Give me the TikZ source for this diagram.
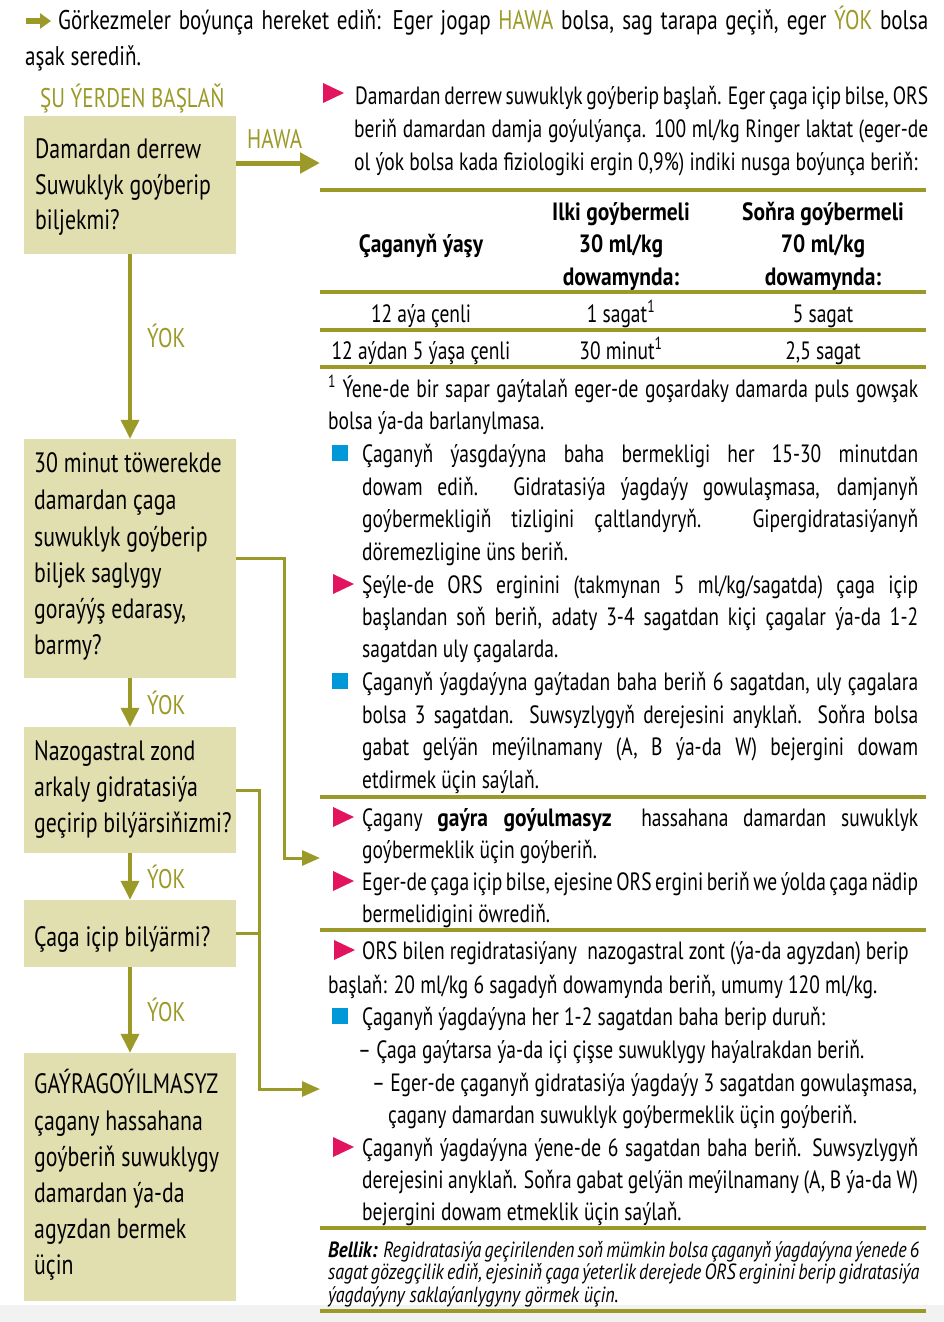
\documentclass[tikz,border=0pt]{standalone}
\usepackage{fontspec}
\setmainfont{PT Sans}[FakeStretch=0.78,BoldFeatures={FakeStretch=0.86},ItalicFeatures={FakeStretch=0.82},BoldItalicFeatures={FakeStretch=0.86}]
\usepackage{graphicx}
\usetikzlibrary{arrows.meta}
\definecolor{olive}{HTML}{9B9A28}
\definecolor{boxfill}{HTML}{E1DEB0}
\definecolor{pinkm}{HTML}{E2145F}
\definecolor{bluem}{HTML}{0099D8}
\newcommand\TL[4]{\node[txt] (#1) at (#2,#3) {#4};}
\newcommand\JL[5]{\node[txt] (#1) at (#2,#3) {\makebox[#4pt][s]{#5}};}
\newcommand\BT[4]{\node[btxt] (#1) at (#2,#3) {#4};}
\newcommand\PTri[3]{\fill[pinkm] (#2,#3-10) -- (#2+21,#3) -- (#2,#3+10) -- cycle; \coordinate (#1) at (#2,#3);}
\newcommand\BSq[3]{\fill[bluem] (#2,#3-8) rectangle (#2+16,#3+8); \coordinate (#1) at (#2,#3);}
\begin{document}
\begin{tikzpicture}[x=1pt,y=-1pt,
  txt/.style={inner sep=0pt,anchor=mid west,yshift=-6.5pt,font=\fontsize{25}{28}\selectfont},
  btxt/.style={inner sep=0pt,anchor=mid west,yshift=-6.5pt,font=\fontsize{28}{32}\selectfont},
  ttl/.style={inner sep=0pt,anchor=mid west,yshift=-6.5pt,font=\fontsize{27}{30}\selectfont},
  lbl/.style={inner sep=0pt,anchor=mid west,yshift=-6.5pt,text=olive,font=\fontsize{27}{32}\selectfont},
  hdr/.style={inner sep=0pt,anchor=mid,yshift=-6.5pt,font=\bfseries\fontsize{25}{28}\selectfont},
  cell/.style={inner sep=0pt,anchor=mid,yshift=-6.5pt,font=\fontsize{25}{28}\selectfont},
  bel/.style={inner sep=0pt,anchor=mid west,yshift=-5.5pt,font=\itshape\fontsize{22}{24}\selectfont},
  qbox/.style={fill=boxfill,inner sep=0pt,minimum width=212pt},
  rule/.style={olive,line width=3.5pt},
  vline/.style={olive,line width=3.5pt,-{Triangle[length=19pt,width=18pt]}},
  hawa/.style={olive,line width=5pt,-{Triangle[length=20pt,width=20pt]}},
  rline/.style={olive,line width=3pt,-{Triangle[length=18pt,width=15pt]}},
  rjoin/.style={olive,line width=3pt}]
\useasboundingbox (0,0) rectangle (944,1322);
\fill[white] (0,0) rectangle (944,1322);
\fill[black!5] (0,1305) rectangle (944,1322);

% title
\draw[olive,line width=5.5pt,-{Triangle[length=11pt,width=15pt]}] (26,21) -- (51,21);
\node[ttl] (t1) at (58,21) {\makebox[870pt][s]{Görkezmeler boýunça hereket ediň: Eger jogap \textcolor{olive}{HAWA} bolsa, sag tarapa geçiň, eger \textcolor{olive}{ÝOK} bolsa}};
\node[ttl] (t2) at (25,57) {aşak serediň.};
\node[lbl] (start) at (40,98) {ŞU ÝERDEN BAŞLAŇ};

% boxes
\node[qbox,minimum height=138pt] (b1) at (130,185) {};
\node[qbox,minimum height=239pt] (b2) at (130,558.5) {};
\node[qbox,minimum height=126pt] (b3) at (130,790) {};
\node[qbox,minimum height=67pt] (b4) at (130,933.5) {};
\node[qbox,minimum height=248pt] (b5) at (130,1177) {};

\BT{b1a}{35}{149}{Damardan derrew}
\BT{b1b}{35}{185}{Suwuklyk goýberip}
\BT{b1c}{35}{220}{biljekmi?}
\BT{b2a}{34}{463}{30 minut töwerekde}
\BT{b2b}{34}{500}{damardan çaga}
\BT{b2c}{34}{537}{suwuklyk goýberip}
\BT{b2d}{34}{573}{biljek saglygy}
\BT{b2e}{34}{609}{goraýýş edarasy,}
\BT{b2f}{34}{645}{barmy?}
\BT{b3a}{34}{751}{Nazogastral zond}
\BT{b3b}{34}{787}{arkaly gidratasiýa}
\BT{b3c}{34}{823}{geçirip bilýärsiňizmi?}
\BT{b4a}{34}{937}{Çaga içip bilýärmi?}
\BT{b5a}{34}{1084}{GAÝRAGOÝILMASYZ}
\BT{b5b}{34}{1121}{çagany hassahana}
\BT{b5c}{34}{1157}{goýberiň suwuklygy}
\BT{b5d}{34}{1193}{damardan ýa-da}
\BT{b5e}{34}{1229}{agyzdan bermek}
\BT{b5f}{34}{1265}{üçin}

% connectors
\draw[vline] (b1.south) -- (b2.north);
\draw[vline] (b2.south) -- (b3.north);
\draw[vline] (b3.south) -- (b4.north);
\draw[vline] (b4.south) -- (b5.north);
\node[lbl] (y1) at (147,338) {ÝOK};
\node[lbl] (y2) at (147,705) {ÝOK};
\node[lbl] (y3) at (147,879) {ÝOK};
\node[lbl] (y4) at (147,1012) {ÝOK};
\coordinate (hend) at (320,163);
\draw[hawa] ([yshift=22pt]b1.east) -- (hend);
\node[lbl] (hw) at (247,139) {HAWA};
\coordinate (e2) at (320,858);
\draw[rline] (b2.east) -- ++(48,0) |- (e2);
\coordinate (e3) at (320,1089);
\draw[rline] (b3.east) -- ++(23,0) |- (e3);
\draw[rjoin] (b4.east) -- ++(24.5,0);

% right column block 1
\PTri{m1}{323}{93}
\JL{r1}{355}{95}{573}{Damardan derrew suwuklyk goýberip başlaň. Eger çaga içip bilse, ORS}
\JL{r2}{354}{128}{574}{beriň damardan damja goýulýança. 100 ml/kg Ringer laktat (eger-de}
\TL{r3}{354}{161}{ol ýok bolsa kada fiziologiki ergin 0,9\%) indiki nusga boýunça beriň:}
\draw[rule] (320,190) -- (926,190);

% table
\node[hdr] (h1) at (421,243) {Çaganyň ýaşy};
\node[hdr] (h2a) at (621,211) {Ilki goýbermeli};
\node[hdr] (h2b) at (621,243) {30 ml/kg};
\node[hdr] (h2c) at (621,276) {dowamynda:};
\node[hdr] (h3a) at (823,211) {Soňra goýbermeli};
\node[hdr] (h3b) at (823,243) {70 ml/kg};
\node[hdr] (h3c) at (823,276) {dowamynda:};
\draw[rule] (320,292) -- (926,292);
\node[cell] (c11) at (421,313) {12 aýa çenli};
\node[cell] (c12) at (621,313) {1 sagat\textsuperscript{1}};
\node[cell] (c13) at (823,313) {5 sagat};
\draw[rule] (320,330) -- (926,330);
\node[cell] (c21) at (421,350) {12 aýdan 5 ýaşa çenli};
\node[cell] (c22) at (621,350) {30 minut\textsuperscript{1}};
\node[cell] (c23) at (823,350) {2,5 sagat};
\draw[rule] (320,367) -- (926,367);

% footnote
\JL{f1}{328}{388}{590}{\textsuperscript{1} Ýene-de bir sapar gaýtalaň eger-de goşardaky damarda puls gowşak}
\TL{f2}{328}{420}{bolsa ýa-da barlanylmasa.}

\BSq{m2}{332}{453}
\JL{s1}{362}{453}{556}{Çaganyň ýasgdaýyna baha bermekligi her 15-30 minutdan}
\JL{s2}{362}{486}{556}{dowam ediň. Gidratasiýa ýagdaýy gowulaşmasa, damjanyň}
\JL{s3}{362}{518}{556}{goýbermekligiň tizligini çaltlandyryň. Gipergidratasiýanyň}
\TL{s4}{362}{551}{döremezligine üns beriň.}

\PTri{m3}{333}{584}
\JL{p1}{362}{584}{556}{Şeýle-de ORS erginini (takmynan 5 ml/kg/sagatda) çaga içip}
\JL{p2}{362}{616}{556}{başlandan soň beriň, adaty 3-4 sagatdan kiçi çagalar ýa-da 1-2}
\TL{p3}{362}{648}{sagatdan uly çagalarda.}

\BSq{m4}{332}{681}
\JL{q1}{362}{681}{556}{Çaganyň ýagdaýyna gaýtadan baha beriň 6 sagatdan, uly çagalara}
\JL{q2}{362}{714}{556}{bolsa 3 sagatdan. Suwsyzlygyň derejesini anyklaň. Soňra bolsa}
\JL{q3}{362}{746}{556}{gabat gelýän meýilnamany (A, B ýa-da W) bejergini dowam}
\TL{q4}{362}{779}{etdirmek üçin saýlaň.}
\draw[rule] (320,797) -- (926,797);

\PTri{m5}{333}{817}
\JL{u1}{362}{817}{556}{Çagany \textbf{gaýra goýulmasyz}\ \ hassahana damardan suwuklyk}
\TL{u2}{362}{849}{goýbermeklik üçin goýberiň.}
\PTri{m6}{333}{881}
\JL{u3}{362}{881}{556}{Eger-de çaga içip bilse, ejesine ORS ergini beriň we ýolda çaga nädip}
\TL{u4}{362}{913}{bermelidigini öwrediň.}
\draw[rule] (320,930) -- (926,930);

\PTri{m7}{334}{950}
\TL{v1}{362}{950}{ORS bilen regidratasiýany\ \ nazogastral zont (ýa-da agyzdan) berip}
\TL{v2}{328}{984}{başlaň: 20 ml/kg 6 sagadyň dowamynda beriň, umumy 120 ml/kg.}
\BSq{m8}{332}{1016}
\TL{v3}{362}{1016}{Çaganyň ýagdaýyna her 1-2 sagatdan baha berip duruň:}
\TL{v4}{358}{1049}{– Çaga gaýtarsa ýa-da içi çişse suwuklygy haýalrakdan beriň.}
\TL{v5}{372}{1082}{– Eger-de çaganyň gidratasiýa ýagdaýy 3 sagatdan gowulaşmasa,}
\TL{v6}{388}{1114}{çagany damardan suwuklyk goýbermeklik üçin goýberiň.}
\PTri{m9}{333}{1147}
\JL{w1}{362}{1147}{556}{Çaganyň ýagdaýyna ýene-de 6 sagatdan baha beriň. Suwsyzlygyň}
\JL{w2}{362}{1179}{556}{derejesini anyklaň. Soňra gabat gelýän meýilnamany (A, B ýa-da W)}
\TL{w3}{362}{1211}{bejergini dowam etmeklik üçin saýlaň.}
\draw[rule] (320,1228) -- (926,1228);

\node[bel] (n1) at (328,1249) {\makebox[590pt][s]{\textbf{Bellik:} Regidratasiýa geçirilenden soň mümkin bolsa çaganyň ýagdaýyna ýenede 6}};
\node[bel] (n2) at (328,1271) {\makebox[590pt][s]{sagat gözegçilik ediň, ejesiniň çaga ýeterlik derejede ORS erginini berip gidratasiýa}};
\node[bel] (n3) at (328,1294) {ýagdaýyny saklaýanlygyny görmek üçin.};
\draw[rule] (320,1311) -- (926,1311);
\end{tikzpicture}
\end{document}
